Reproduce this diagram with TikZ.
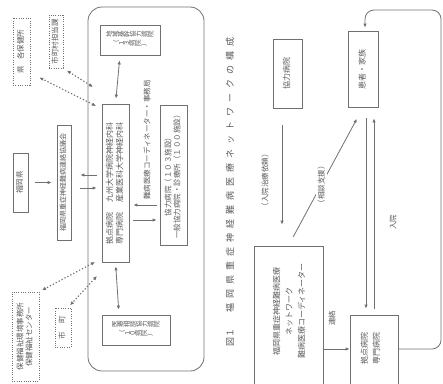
\documentclass[tikz,border=0pt]{standalone}
\usepackage{fontspec}
\setmainfont{Noto Sans CJK JP}
\usetikzlibrary{arrows.meta}
\definecolor{lc}{HTML}{707070}
\definecolor{tc}{HTML}{5A5A5A}
\makeatletter
\def\rotchars#1{\rc@loop#1\relax}
\def\rc@loop#1{\ifx#1\relax\else\rotatebox{90}{#1}\expandafter\rc@loop\fi}
\def\spacedchars#1#2{\def\sc@sep{\hspace{#1}}\sc@first#2\relax}
\def\sc@first#1{#1\sc@rest}
\def\sc@rest#1{\ifx#1\relax\else\sc@sep#1\expandafter\sc@rest\fi}
\makeatother
\newcommand\vt[1]{\rotatebox{90}{\begin{tabular}{@{}c@{}}#1\end{tabular}}}
\newcommand\vtl[1]{\rotatebox{90}{\begin{tabular}{@{}l@{}}#1\end{tabular}}}
\newcommand\hrows[1]{\begin{tabular}{@{}c@{}}#1\end{tabular}}
\tikzset{
  ln/.style={draw=lc, line width=0.8pt},
  txt/.style={text=tc, font=\fontsize{7.5}{9}\selectfont, inner sep=0pt},
  box/.style={ln, txt, rectangle},
  dbox/.style={draw=lc, line width=0.9pt, dash pattern=on 1pt off 1.3pt, txt, rectangle},
  tip/.tip={Latex[length=4pt,width=3.5pt]},
  arr/.style={ln, -tip},
  darr/.style={ln, tip-tip},
  dotarr/.style={draw=lc, line width=1.1pt, dash pattern=on 1.3pt off 2pt, tip-tip},
}
\begin{document}
\begin{tikzpicture}[x=1pt,y=-1pt]
\useasboundingbox (0,0) rectangle (443,383);
% ---------- left diagram ----------
\node[dbox, minimum width=17, minimum height=67] (A) at (21.5,51.5) {\vt{県\hspace{6pt}各保健所}};
\node[dbox, minimum width=14, minimum height=53] (B) at (56,41.5) {\vt{市町村担当課}};
\node[box, minimum width=15, minimum height=59] (F) at (20.5,182.5) {\vt{福岡県}};
\node[box, minimum width=14, minimum height=115, font=\fontsize{7}{8}\selectfont] (C) at (64,182.5) {\vt{福岡県重症神経難病連絡協議会}};
\node[dbox, minimum width=27, minimum height=89] (E) at (25.5,336.5) {\vt{保健福祉環境事務所\\保健福祉センター}};
\node[dbox, minimum width=16, minimum height=39] (G) at (63,327.5) {\vt{市\hspace{8pt}町}};
\node[ln, rounded corners=14, minimum width=116, minimum height=364, inner sep=0pt] (net) at (146,189) {};
\node[box, minimum width=60, minimum height=30, font=\fontsize{6.5}{8}\selectfont] (T) at (130,40)
  {\hrows{\rotchars{地域基幹協力病院}\\\rotchars{（１３病院）}}};
\node[box, minimum width=27, minimum height=158, font=\fontsize{8}{10}\selectfont] (M) at (115.5,183)
  {\vtl{拠点病院\hspace{10pt}九州大学病院神経内科\\専門病院\hspace{10pt}産業医科大学神経内科}};
\node[box, minimum width=27, minimum height=140] (R) at (173.5,175)
  {\vt{協力病院（１０３施設）\\一般協力病院・診療所（１００施設）}};
\node[txt] (coord) at (147,140) {\rotatebox{90}{難病医療コーディネーター・事務局}};
\node[box, minimum width=68, minimum height=30, font=\fontsize{6.5}{8}\selectfont] (Bx) at (136,330)
  {\hrows{\rotchars{医療相談協力病院}\\\rotchars{（１０病院）}}};
\node[txt, font=\fontsize{9}{10}\selectfont] (cap) at (230,192)
  {\rotatebox{90}{図１\hspace{16pt}\spacedchars{5pt}{福岡県重症神経難病医療ネットワークの構成}}};
\coordinate (y175) at (0,175);
\coordinate (y188) at (0,188);
\coordinate (y205) at (0,205);
\coordinate (y220) at (0,220);
\coordinate (p1) at (93,87);
\coordinate (p2) at (96,106);
\coordinate (p3) at (95,262);
\coordinate (p4) at (97,276);
\draw[darr, shorten <=5pt, shorten >=5pt] ([xshift=-10pt]T.south) -- (M.north);
\draw[darr, shorten <=4pt, shorten >=5pt] (M.south) -- ([xshift=-17pt]Bx.north);
\draw[arr, shorten <=3pt, shorten >=4pt] (R.west |- y205) -- (M.east |- y205);
\draw[arr, shorten <=4pt, shorten >=3pt] (M.east |- y220) -- (R.west |- y220);
\draw[arr, shorten <=5pt, shorten >=9pt] (M.west |- y175) -- (C.east |- y175);
\draw[arr, shorten <=9pt, shorten >=5pt] (C.east |- y188) -- (M.west |- y188);
\draw[arr, shorten <=7pt, shorten >=5pt] (F.east) -- (C.west);
\draw[dotarr, shorten >=4pt] (p1) -- (B.south east);
\draw[dotarr, shorten >=10pt] (p2) -- ([yshift=-21.5pt]A.east);
\draw[dotarr, shorten >=3pt] (p3) -- (E.north east);
\draw[dotarr, shorten >=3pt] (p4) -- ([xshift=5pt]G.north);
% ---------- right diagram ----------
\node[box, minimum width=29, minimum height=69, font=\fontsize{8}{10}\selectfont] (K) at (287.5,73.5) {\vt{協力病院}};
\node[box, minimum width=30, minimum height=76, font=\fontsize{8}{10}\selectfont] (P) at (363,69) {\vt{患者・家族}};
\node[box, minimum width=69, minimum height=146] (N) at (288.5,319) {};
\node[txt, font=\fontsize{8}{12.5}\selectfont] (Nt) at (289.5,311)
  {\vt{福岡県重症神経難病医療\\ネットワーク\\難病医療コーディネーター}};
\node[box, minimum width=48, minimum height=77] (S) at (374,353.5) {};
\node[txt, font=\fontsize{8}{12}\selectfont] (St) at (371,348) {\vt{拠点病院\\専門病院}};
\node[txt] (L1) at (265,180) {\rotatebox{90}{（入院治療依頼）}};
\node[txt] (L3) at (332,318) {\rotatebox{90}{連絡}};
\node[txt] (L4) at (393,222) {\rotatebox{90}{入院}};
\coordinate (y349) at (0,349);
\coordinate (xk) at (282,0);
\coordinate (xl) at (366,0);
\coordinate (xr) at (374,0);
\coordinate (c1) at (441,349);
\coordinate (c2) at (441,10);
\coordinate (c3) at (365,10);
\draw[arr, shorten <=17pt, shorten >=21pt] (K.south -| xk) -- (N.north -| xk);
\draw[arr, shorten <=10pt, shorten >=13pt] (N.north) --
  node[pos=0.44, txt, fill=white, inner sep=2pt] (L2) {\rotatebox{90}{（相談支援）}} (P.south);
\draw[arr, shorten <=11pt, shorten >=6pt] (P.south -| xl) -- (S.north -| xl);
\draw[arr, shorten <=6pt, shorten >=11pt] (S.north -| xr) -- (P.south -| xr);
\draw[arr] (N.east |- y349) -- (S.west |- y349);
\draw[arr, rounded corners=9pt, shorten >=3pt] (S.east |- y349) -- (c1) -- (c2) -- (c3) -- (P.north -| c3);
\end{tikzpicture}
\end{document}
